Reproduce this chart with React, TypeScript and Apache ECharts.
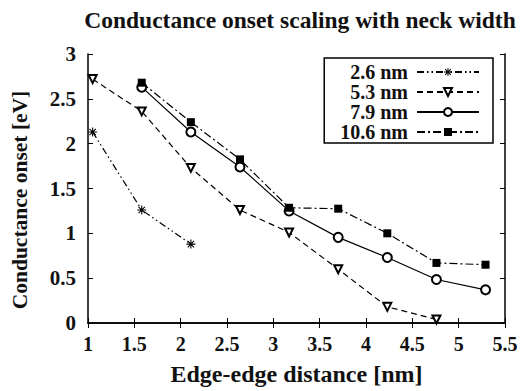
import React, { useEffect, useRef } from "react";
import * as echarts from "echarts";

const xValues = [1.05, 1.58, 2.11, 2.64, 3.17, 3.7, 4.23, 4.76, 5.29];
const seriesNames = ["2.6 nm", "5.3 nm", "7.9 nm", "10.6 nm"];
const s26 = [2.13, 1.26, 0.88];
const s53 = [2.72, 2.36, 1.73, 1.26, 1.01, 0.6, 0.18, 0.04];
const s79 = [null, 2.63, 2.13, 1.74, 1.25, 0.955, 0.73, 0.485, 0.37];
const s106 = [null, 2.68, 2.24, 1.825, 1.285, 1.275, 1.0, 0.67, 0.65];
const xTicks = [1, 1.5, 2, 2.5, 3, 3.5, 4, 4.5, 5, 5.5];
const yTicks = [0, 0.5, 1, 1.5, 2, 2.5, 3];

const FONT = "Liberation Serif";

const ASTERISK =
  "path://M-0.6,-5L0.6,-5L0.6,5L-0.6,5Z" +
  "M-5,-0.6L5,-0.6L5,0.6L-5,0.6Z" +
  "M-3.12,-3.96L3.96,3.12L3.12,3.96L-3.96,-3.12Z" +
  "M-3.96,3.12L3.12,-3.96L3.96,-3.12L-3.12,3.96Z";

function pairs(vals: (number | null)[]) {
  return vals.map((v, i) => [xValues[i], v]).filter((p) => p[1] !== null);
}

export default function App() {
  const ref = useRef<HTMLDivElement>(null);
  useEffect(() => {
    if (!ref.current) return;
    const chart = echarts.init(ref.current, null, { renderer: "svg" });
    const axisLine = { show: true, lineStyle: { color: "#000", width: 1.5 } };
    const tickLabel = {
      color: "#111",
      fontFamily: FONT,
      fontWeight: "bold",
    };
    const lineBase = { color: "#000", width: 1.2 };
    const tick = { show: true, inside: true, length: 5, lineStyle: { color: "#000" } };
    chart.setOption({
      animation: false,
      backgroundColor: "#fff",
      graphic: [
        {
          type: "text",
          x: 300,
          y: 20,
          style: {
            text: "Conductance onset scaling with neck width",
            fontFamily: FONT,
            fontWeight: "bold",
            fontSize: 23.5,
            fill: "#111",
            align: "center",
            verticalAlign: "middle",
          },
        },
        {
          type: "text",
          x: 20,
          y: 200,
          rotation: Math.PI / 2,
          style: {
            text: "Conductance onset [eV]",
            fontFamily: FONT,
            fontWeight: "bold",
            fontSize: 21.5,
            fill: "#111",
            align: "center",
            verticalAlign: "middle",
          },
        },
      ],
      grid: { left: 88, right: 17, top: 54, bottom: 64, containLabel: false },
      legend: {
        orient: "vertical",
        right: 29,
        top: 58,
        align: "right",
        itemWidth: 62,
        itemHeight: 10,
        itemGap: 0,
        padding: [4, 13, 1, 16],
        borderColor: "#000",
        borderWidth: 1.5,
        backgroundColor: "#fff",
        data: seriesNames,
        textStyle: {
          color: "#111",
          fontFamily: FONT,
          fontWeight: "bold",
          fontSize: 20,
          padding: [0, 4, 0, 0],
        },
      },
      xAxis: [
        {
          type: "value",
          min: 1,
          max: 5.5,
          interval: 0.5,
          axisLine,
          axisTick: tick,
          axisLabel: { ...tickLabel, fontSize: 20, margin: 11, formatter: (v: number) => (xTicks.includes(v) ? String(v) : "") },
          splitLine: { show: false },
          name: "Edge-edge distance [nm]",
          nameLocation: "middle",
          nameGap: 39,
          nameTextStyle: { color: "#111", fontFamily: FONT, fontWeight: "bold", fontSize: 24 },
        },
        {
          type: "value",
          position: "top",
          min: 1,
          max: 5.5,
          interval: 0.5,
          axisLine,
          axisTick: tick,
          axisLabel: { show: false },
          splitLine: { show: false },
        },
      ],
      yAxis: [
        {
          type: "value",
          min: 0,
          max: 3,
          interval: 0.5,
          axisLine,
          axisTick: tick,
          axisLabel: { ...tickLabel, fontSize: 21, margin: 12, formatter: (v: number) => (yTicks.includes(v) ? String(v) : "") },
          splitLine: { show: false },
        },
        {
          type: "value",
          position: "right",
          min: 0,
          max: 3,
          interval: 0.5,
          axisLine,
          axisTick: tick,
          axisLabel: { show: false },
          splitLine: { show: false },
        },
      ],
      series: [
        {
          name: seriesNames[0],
          type: "line",
          data: pairs(s26),
          symbol: ASTERISK,
          symbolSize: 9,
          itemStyle: { color: "#000" },
          lineStyle: { ...lineBase, type: [7, 3, 1.5, 3, 1.5, 3] },
        },
        {
          name: seriesNames[1],
          type: "line",
          data: pairs(s53),
          symbol: "emptyTriangle",
          symbolRotate: 180,
          symbolSize: 8,
          itemStyle: { color: "#000", borderWidth: 1.2 },
          lineStyle: { ...lineBase, type: [6, 4] },
        },
        {
          name: seriesNames[2],
          type: "line",
          data: pairs(s79),
          symbol: "emptyCircle",
          symbolSize: 9,
          itemStyle: { color: "#000", borderWidth: 1.2 },
          lineStyle: { ...lineBase, type: "solid" },
        },
        {
          name: seriesNames[3],
          type: "line",
          data: pairs(s106),
          symbol: "rect",
          symbolSize: 8,
          itemStyle: { color: "#000" },
          lineStyle: { ...lineBase, type: [8, 3, 2, 3] },
        },
      ],
    });
    return () => chart.dispose();
  }, []);
  return (
    <div
      ref={ref}
      style={{ position: "fixed", left: 0, top: 0, width: 522, height: 391, background: "#fff" }}
    />
  );
}
